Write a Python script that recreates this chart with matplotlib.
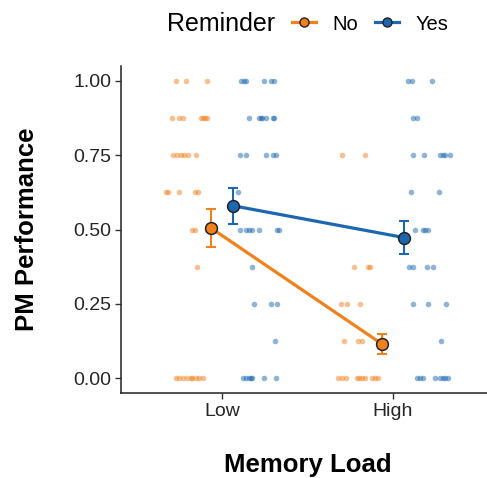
import numpy as np
import matplotlib
matplotlib.use("Agg")
from matplotlib import pyplot as plt
from matplotlib.lines import Line2D

plt.rcParams['font.family'] = ['Liberation Sans', 'DejaVu Sans']

# memory load categories and reminder groups
loads = ['Low', 'High']
groups = ['No', 'Yes']
colors = {'No': '#F0821E', 'Yes': '#1C68B0'}

# group means and standard errors
mean_no = [0.505, 0.115]
se_no = [0.063, 0.035]
mean_yes = [0.580, 0.473]
se_yes = [0.060, 0.057]

# raw scores (y) and horizontal jitter offsets from category center (x units)
low_no_y = [1.0]*3 + [0.875]*7 + [0.75]*6 + [0.625]*5 + [0.5]*3 + [0.375] + [0.0]*9
low_no_dx = [-0.271, -0.212, -0.088,
             -0.294, -0.251, -0.226, -0.125, -0.113, -0.099, -0.086,
             -0.287, -0.265, -0.242, -0.222, -0.199, -0.154,
             -0.327, -0.314, -0.250, -0.158, -0.139,
             -0.177, -0.158, -0.089,
             -0.148,
             -0.269, -0.250, -0.230, -0.206, -0.183, -0.174, -0.152, -0.133, -0.109]

low_yes_y = [1.0]*6 + [0.875]*7 + [0.75]*5 + [0.625] + [0.5]*7 + [0.375] + [0.25]*3 + [0.125] + [0.0]*7
low_yes_dx = [0.111, 0.129, 0.140, 0.247, 0.287, 0.302,
              0.160, 0.216, 0.226, 0.236, 0.257, 0.296, 0.306,
              0.105, 0.139, 0.257, 0.300, 0.314,
              0.096,
              0.105, 0.139, 0.160, 0.174, 0.218, 0.320, 0.333,
              0.174,
              0.187, 0.285, 0.320,
              0.310,
              0.121, 0.140, 0.158, 0.168, 0.177, 0.246, 0.314]

high_no_y = [0.75]*2 + [0.375]*3 + [0.25]*3 + [0.125]*3 + [0.0]*10
high_no_dx = [-0.296, -0.164,
              -0.226, -0.148, -0.135,
              -0.304, -0.271, -0.193,
              -0.285, -0.203, -0.180,
              -0.320, -0.300, -0.277, -0.212, -0.197, -0.180, -0.164, -0.121, -0.105, -0.089]

high_yes_y = [1.0]*3 + [0.875]*2 + [0.75]*6 + [0.625]*2 + [0.5]*4 + [0.375]*4 + [0.25]*3 + [0.125] + [0.0]*8
high_yes_dx = [0.089, 0.109, 0.230,
               0.119, 0.139,
               0.119, 0.183, 0.275, 0.291, 0.304, 0.333,
               0.105, 0.269,
               0.129, 0.174, 0.187, 0.203,
               0.094, 0.119, 0.201, 0.232,
               0.119, 0.203, 0.310,
               0.281,
               0.142, 0.158, 0.178, 0.246, 0.275, 0.291, 0.304, 0.323]

raw = {
    ('Low', 'No'): (low_no_dx, low_no_y),
    ('Low', 'Yes'): (low_yes_dx, low_yes_y),
    ('High', 'No'): (high_no_dx, high_no_y),
    ('High', 'Yes'): (high_yes_dx, high_yes_y),
}
means = {'No': (mean_no, se_no), 'Yes': (mean_yes, se_yes)}
dodge = {'No': -0.064, 'Yes': 0.064}

fig = plt.figure(figsize=(4.87, 4.78), dpi=100)
ax = fig.add_axes([121/487, 85/478, 366/487, 327/478])

xpos = np.arange(1, len(loads) + 1)

# jittered raw points
for i, load in enumerate(loads):
    for g in groups:
        dx, y = raw[(load, g)]
        ax.scatter(xpos[i] + np.array(dx), y, s=16, color=colors[g],
                   alpha=0.5, linewidths=0, zorder=2)

# means with error bars
for g in groups:
    m, se = means[g]
    x = xpos + dodge[g]
    ax.plot(x, m, color=colors[g], lw=2.3, zorder=3)
    ax.errorbar(x, m, yerr=se, fmt='none', ecolor=colors[g], elinewidth=1.5,
                capsize=3.5, capthick=1.5, zorder=4)
    ax.plot(x, m, 'o', ms=8.5, mfc=colors[g], mec='#222222', mew=1.1, zorder=5)

ax.set_xlim(0.41, 0.41 + 366/171)
ax.set_ylim(-0.05, 1.05)
ax.set_xticks(xpos)
ax.set_xticklabels(loads)
ax.set_yticks([0, 0.25, 0.5, 0.75, 1.0])
ax.set_yticklabels(['0.00', '0.25', '0.50', '0.75', '1.00'])
ax.tick_params(labelsize=14, colors='#333333', length=4, width=1,
               labelcolor='#262626', pad=3)
for s in ['top', 'right']:
    ax.spines[s].set_visible(False)
for s in ['left', 'bottom']:
    ax.spines[s].set_linewidth(1.1)
    ax.spines[s].set_color('#222222')

ax.set_xlabel('Memory Load', fontsize=18.5, fontweight='bold')
ax.set_ylabel('PM Performance', fontsize=18.5, fontweight='bold')
ax.xaxis.set_label_coords((308 - 121)/366, (393 - 453)/327)
ax.yaxis.set_label_coords((39 - 121)/366, (393 - 229)/327)

# legend on top
fig.text(167/487, 1 - 24/478, 'Reminder', fontsize=18, va='center', ha='left')
handles = [Line2D([0], [0], color=colors[g], lw=2.3, marker='o', ms=6.5,
                  mfc=colors[g], mec='#222222', mew=1.0) for g in groups]
fig.legend(handles, groups, loc='center left', bbox_to_anchor=(292/487, 1 - 24/478),
           ncol=2, frameon=False, fontsize=14.5, handlelength=1.2,
           handletextpad=0.8, columnspacing=0.85, borderaxespad=0, borderpad=0)

fig.savefig('out.png', dpi=100)
